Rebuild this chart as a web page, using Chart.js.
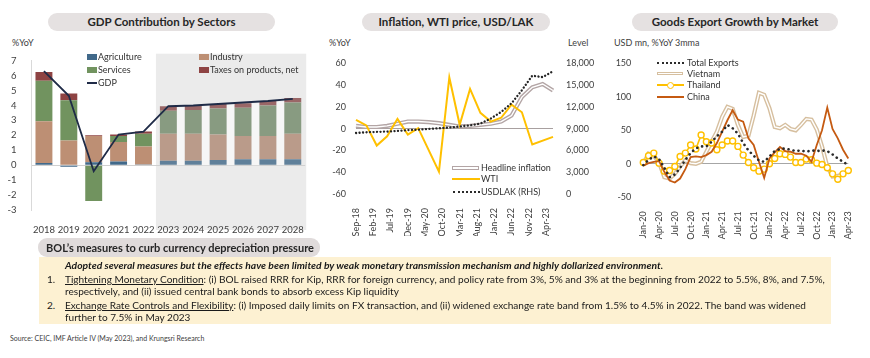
<!DOCTYPE html>
<html>
<head>
<meta charset="utf-8">
<title>Lao PDR: growth, inflation and exports</title>
<script src="https://cdn.jsdelivr.net/npm/chart.js@4.4.1/dist/chart.umd.min.js"></script>
<style>
body { margin:0; }
#page { position:relative; width:870px; height:358px; background:#fff; overflow:hidden; font-family: Lato, "Open Sans", sans-serif; color:#262626; }
#page canvas { position:absolute; }
.pill { position:absolute; height:18px; line-height:18px; border-radius:9px; background:#e5e1e1; text-align:center; font-weight:700; font-size:11.5px; color:#262626; white-space:nowrap; }
.unit { position:absolute; font-size:9px; color:#404040; line-height:12px; white-space:nowrap; }
.lg { position:absolute; font-size:9px; color:#333; line-height:12px; white-space:nowrap; }
.sw { position:absolute; }
.dline { position:absolute; height:1.6px; background:#fff; border:1.3px solid; }
.dots { position:absolute; height:0; border-top:2.4px dotted #2b2b2b; }
.ring { position:absolute; width:7px; height:7px; box-sizing:border-box; border:1.4px solid #ffc000; border-radius:50%; background:#fff; }
.txt { position:absolute; font-size:10px; line-height:13px; white-space:nowrap; color:#1a1a1a; }
#box { position:absolute; left:39px; top:257px; width:792px; height:67px; background:#fdf1d2; }
#secpill { position:absolute; left:38px; top:238px; width:282px; height:19px; line-height:19px; border-radius:9px; background:#e0dbdb; font-weight:700; font-size:11px; padding-left:8px; box-sizing:border-box; white-space:nowrap; }
#source { position:absolute; left:10px; top:334px; font-size:7px; color:#404040; white-space:nowrap; }
</style>
</head>
<body>
<div id="page">
  <div class="pill" style="left:48px; top:13px; width:227px;">GDP Contribution by Sectors</div>
  <div class="pill" style="left:362px; top:13px; width:188px;">Inflation, WTI price, USD/LAK</div>
  <div class="pill" style="left:632px; top:13px; width:206px;">Goods Export Growth by Market</div>

  <div class="unit" style="left:12px; top:37px;">%YoY</div>
  <div class="unit" style="left:329px; top:37px;">%YoY</div>
  <div class="unit" style="left:568px; top:37px;">Level</div>
  <div class="unit" style="left:614px; top:37px;">USD mn, %YoY 3mma</div>

  <canvas id="gdpChart" width="310" height="196" style="left:0; top:40px;"></canvas>
  <canvas id="inflChart" width="290" height="196" style="left:310px; top:40px;"></canvas>
  <canvas id="expChart" width="270" height="200" style="left:600px; top:40px;"></canvas>

  <!-- legend, chart 1 -->
  <div class="sw" style="left:87px; top:54px; width:10px; height:6px; background:#41698a;"></div>
  <div class="lg" style="left:98px; top:51px;">Agriculture</div>
  <div class="sw" style="left:87px; top:67px; width:10px; height:6px; background:#71935f;"></div>
  <div class="lg" style="left:98px; top:64px;">Services</div>
  <div class="sw" style="left:87px; top:82px; width:10px; height:1.8px; background:#1f2b47;"></div>
  <div class="lg" style="left:98px; top:77px;">GDP</div>
  <div class="sw" style="left:199px; top:54px; width:10px; height:6px; background:#bd8f74;"></div>
  <div class="lg" style="left:210px; top:51px;">Industry</div>
  <div class="sw" style="left:199px; top:67px; width:10px; height:6px; background:#8e4343;"></div>
  <div class="lg" style="left:210px; top:64px;">Taxes on products, net</div>

  <!-- legend, chart 2 -->
  <div class="dline" style="left:452px; top:166px; width:25px; border-color:#b3a5a5;"></div>
  <div class="lg" style="left:481px; top:162px;">Headline inflation</div>
  <div class="sw" style="left:452px; top:178.3px; width:28px; height:2px; background:#ffc000;"></div>
  <div class="lg" style="left:481px; top:173px;">WTI</div>
  <div class="dots" style="left:453px; top:190.5px; width:27px;"></div>
  <div class="lg" style="left:481px; top:186px;">USDLAK (RHS)</div>

  <!-- legend, chart 3 -->
  <div class="dots" style="left:657px; top:62px; width:27px;"></div>
  <div class="lg" style="left:687px; top:57px;">Total Exports</div>
  <div class="dline" style="left:657px; top:71.5px; width:24px; border-color:#d6bf9f;"></div>
  <div class="lg" style="left:687px; top:68px;">Vietnam</div>
  <div class="sw" style="left:657px; top:84.2px; width:27px; height:1.6px; background:#ffc000;"></div>
  <div class="ring" style="left:667px; top:81.5px;"></div>
  <div class="lg" style="left:687px; top:79px;">Thailand</div>
  <div class="sw" style="left:657px; top:95.8px; width:27px; height:1.8px; background:#c55a11;"></div>
  <div class="lg" style="left:687px; top:90.5px;">China</div>

  <!-- measures box -->
  <div id="box"></div>
  <div id="secpill">BOL’s measures to curb currency depreciation pressure</div>
  <div class="txt" id="lead" style="left:65px; top:258.5px; font-weight:700; font-style:italic;">Adopted several measures but the effects have been limited by weak monetary transmission mechanism and highly dollarized environment.</div>
  <div class="txt body" style="left:47px; top:272.5px;">1.</div>
  <div class="txt body" id="longLine" style="left:65px; top:272.5px;"><u>Tightening Monetary Condition</u>: (i) BOL raised RRR for Kip, RRR for foreign currency, and policy rate from 3%, 5% and 3% at the beginning from 2022 to 5.5%, 8%, and 7.5%,</div>
  <div class="txt body" style="left:65px; top:285.2px;">respectively, and (ii) issued central bank bonds to absorb excess Kip liquidity</div>
  <div class="txt body" style="left:47px; top:298.5px;">2.</div>
  <div class="txt body" style="left:65px; top:298.5px;"><u>Exchange Rate Controls and Flexibility</u>: (i) Imposed daily limits on FX transaction, and (ii) widened exchange rate band from 1.5% to 4.5% in 2022. The band was widened</div>
  <div class="txt body" style="left:65px; top:310.8px;">further to 7.5% in May 2023</div>
  <div id="source">Source: CEIC, IMF Article IV  (May 2023), and Krungsri Research</div>
</div>

<script>
// ---- GDP contribution by sector (ppt), 2023 onwards are projections
const years = ['2018', '2019', '2020', '2021', '2022', '2023', '2024', '2025', '2026', '2027', '2028'];
const agriculture = [0.15, -0.1, 0.2, 0.25, 0.05, 0.3, 0.3, 0.35, 0.4, 0.4, 0.4];
const industry = [2.8, 1.65, 1.75, 1.3, 1.2, 1.8, 1.8, 1.7, 1.55, 1.55, 1.7];
const services = [2.7, 2.7, -2.4, 0.4, 0.85, 1.55, 1.6, 1.75, 1.9, 2.05, 2.1];
const taxes = [0.6, 0.45, 0.05, 0.1, 0.15, 0.3, 0.3, 0.3, 0.3, 0.3, 0.3];
const gdp = [6.3, 4.65, -0.4, 2.05, 2.25, 3.95, 4.0, 4.1, 4.2, 4.3, 4.45];
const firstForecast = years.indexOf('2023');

// ---- inflation / WTI / USDLAK: monthly axis, series read at every 3rd month
const months2 = ('Sep-18 Oct-18 Nov-18 Dec-18 ' +
  'Jan-19 Feb-19 Mar-19 Apr-19 May-19 Jun-19 Jul-19 Aug-19 Sep-19 Oct-19 Nov-19 Dec-19 ' +
  'Jan-20 Feb-20 Mar-20 Apr-20 May-20 Jun-20 Jul-20 Aug-20 Sep-20 Oct-20 Nov-20 Dec-20 ' +
  'Jan-21 Feb-21 Mar-21 Apr-21 May-21 Jun-21 Jul-21 Aug-21 Sep-21 Oct-21 Nov-21 Dec-21 ' +
  'Jan-22 Feb-22 Mar-22 Apr-22 May-22 Jun-22 Jul-22 Aug-22 Sep-22 Oct-22 Nov-22 Dec-22 ' +
  'Jan-23 Feb-23 Mar-23 Apr-23 May-23 Jun-23').split(' ');
const headlineQ = [2.5, 1.5, 1.5, 2.5, 4.5, 6.5, 6.5, 6, 5, 3.5, 2, 2.5, 3.5, 4.5, 6.5, 12, 29, 38, 41, 35];
const wtiQ = [8, 3, -15.5, -7, 9, -5.5, 0.5, null, -39.5, 47, 3.5, 36.5, 14.5, 6.5, 10, 22, 15, -14.5, null, -7.5];
const usdlakQ = [8400, 8500, 8550, 8600, 8700, 8800, 8850, 8950, 9050, 9150, 9300, 9450, 9700, 10400, 11300, 12500, 14300, 16300, 16100, 16900];

// ---- goods export growth by market (%YoY, 3mma)
const months3 = ('Jan-20 Feb-20 Mar-20 Apr-20 May-20 Jun-20 Jul-20 Aug-20 Sep-20 Oct-20 Nov-20 Dec-20 ' +
  'Jan-21 Feb-21 Mar-21 Apr-21 May-21 Jun-21 Jul-21 Aug-21 Sep-21 Oct-21 Nov-21 Dec-21 ' +
  'Jan-22 Feb-22 Mar-22 Apr-22 May-22 Jun-22 Jul-22 Aug-22 Sep-22 Oct-22 Nov-22 Dec-22 ' +
  'Jan-23 Feb-23 Mar-23 Apr-23').split(' ');
const totalExports = [-2, 6, 11, 7, -6, -20, -16, -6, 6, 16, 23, 26, 26, 33, 41, 48, 58, 53, 45, 31, 20, 12, 5, 3, 11, 19, 22, 23, 21, 19, 20, 18, 20, 19, 20, 19, 14, 8, 3, -2];
const vietnam = [0, 15, 12, 2, -20, -22, -15, -4, 5, 1, 0, 3, 18, 33, 48, 70, 85, 82, 58, 40, 42, 72, 106, 103, 83, 55, 53, 58, 52, 50, 58, 67, 66, 51, 26, -4, -19, -18, -16, null];
const thailand = [2, 12, 16, 1, -11, -10, -4, 11, 16, 28, 22, 43, 33, 31, 21, 28, 34, 34, 26, 13, 2, -6, -11, -8, 0, 8, 15, 14, 10, 2, 2, 7, 6, 1, -1, -6, -15, -23, -15, -10];
const china = [-3, 1, 3, 4, -12, -25, -28, -22, -8, 10, 11, 10, 13, 18, 31, 48, 65, 80, 66, 63, 38, 28, 3, -21, 8, 17, 25, 19, 18, 15, 15, 12, 3, 28, 50, 84, 52, 38, 21, 8];

// text box: size the body lines so the long lines span the box like the original
function fitTo(el, target) {
  const size = parseFloat(getComputedStyle(el).fontSize);
  return size * target / el.getBoundingClientRect().width;
}
const lead = document.getElementById('lead');
lead.style.fontSize = fitTo(lead, 599) + 'px';
const bodySize = fitTo(document.getElementById('longLine'), 761);
document.querySelectorAll('.body').forEach(el => { el.style.fontSize = bodySize + 'px'; });

Chart.defaults.font.family = 'Lato, "Open Sans", sans-serif';
Chart.defaults.font.size = 9;
Chart.defaults.color = '#404040';

function onMonthGrid(q) {
  return months2.map((m, i) => (i % 3 === 0 ? q[i / 3] : null));
}

function byPeriod(hist, fcst) {
  return years.map((y, i) => (i >= firstForecast ? fcst : hist));
}

const noLegend = { legend: { display: false }, tooltip: { enabled: false } };

// grey forecast band + light strips between the projection bars
const forecastShade = {
  id: 'forecastShade',
  beforeDraw(chart) {
    const { ctx, chartArea } = chart;
    const x = chart.scales.x;
    const half = (x.getPixelForValue(1) - x.getPixelForValue(0)) / 2;
    const left = x.getPixelForValue(firstForecast) - half;
    ctx.save();
    ctx.fillStyle = '#ebebeb';
    ctx.fillRect(left, chartArea.top - 7, chartArea.right - left + 1, chart.height - 6 - (chartArea.top - 7));
    ctx.restore();
  },
  beforeDatasetsDraw(chart) {
    const { ctx } = chart;
    const y = chart.scales.y;
    const meta = chart.getDatasetMeta(1);
    ctx.save();
    ctx.fillStyle = '#f6f6f6';
    for (let i = firstForecast; i < years.length - 1; i++) {
      const a = meta.data[i], b = meta.data[i + 1];
      const l = a.x + a.width / 2, r = b.x - b.width / 2;
      const top = y.getPixelForValue((gdp[i] + gdp[i + 1]) / 2) + 1.5;
      ctx.fillRect(l, top, r - l, y.getPixelForValue(0) - top);
    }
    ctx.restore();
  }
};

new Chart(document.getElementById('gdpChart'), {
  data: {
    labels: years,
    datasets: [
      { type: 'line', label: 'GDP', data: gdp, borderColor: '#1f2b47', borderWidth: 1.8, pointRadius: 0, stack: 'gdp', order: 0 },
      { type: 'bar', label: 'Agriculture', data: agriculture, backgroundColor: byPeriod('#41698a', '#60809a'), stack: 's', order: 1 },
      { type: 'bar', label: 'Industry', data: industry, backgroundColor: byPeriod('#bd8f74', '#ba9b8a'), stack: 's', order: 1 },
      { type: 'bar', label: 'Services', data: services, backgroundColor: byPeriod('#71935f', '#889b81'), stack: 's', order: 1 },
      { type: 'bar', label: 'Taxes on products, net', data: taxes, backgroundColor: byPeriod('#8e4343', '#9a6767'), stack: 's', order: 1 }
    ]
  },
  options: {
    responsive: false,
    animation: false,
    layout: { padding: { top: 17, right: 4.5, left: 0, bottom: 0 } },
    plugins: noLegend,
    datasets: { bar: { categoryPercentage: 1, barPercentage: 0.68 } },
    scales: {
      x: {
        stacked: true,
        grid: { display: false },
        border: { display: false },
        ticks: { autoSkip: false, maxRotation: 0, minRotation: 0, padding: 6, font: { size: 9.5 } },
        afterFit: s => { s.height = 26; }
      },
      y: {
        stacked: true,
        min: -3,
        max: 7,
        ticks: { stepSize: 1, padding: 15, font: { size: 9.5 } },
        grid: { drawTicks: false, color: c => (c.tick.value === 0 ? '#d0d0d0' : 'rgba(0,0,0,0)') },
        border: { display: true, color: '#d9d9d9' },
        afterFit: s => { s.width = 31.5; }
      }
    }
  },
  plugins: [forecastShade]
});

const lineBase = { pointRadius: 0, spanGaps: true, tension: 0, fill: false };

new Chart(document.getElementById('inflChart'), {
  type: 'line',
  data: {
    labels: months2,
    datasets: [
      { ...lineBase, label: 'USDLAK (RHS)', data: onMonthGrid(usdlakQ), yAxisID: 'y1', borderColor: '#262626', borderWidth: 2.3, borderDash: [0.1, 3.4], borderCapStyle: 'round' },
      { ...lineBase, label: 'WTI', data: onMonthGrid(wtiQ), yAxisID: 'y', borderColor: '#ffc000', borderWidth: 2 },
      { ...lineBase, label: 'Headline inflation (inner)', data: onMonthGrid(headlineQ), yAxisID: 'y', borderColor: '#ffffff', borderWidth: 1.4 },
      { ...lineBase, label: 'Headline inflation', data: onMonthGrid(headlineQ), yAxisID: 'y', borderColor: '#b3a5a5', borderWidth: 4.2 }
    ]
  },
  options: {
    responsive: false,
    animation: false,
    layout: { padding: { top: 23.3, right: 0, left: 0, bottom: 0 } },
    plugins: noLegend,
    scales: {
      x: {
        grid: { display: false },
        border: { display: false },
        ticks: { autoSkip: false, maxRotation: 90, minRotation: 90, padding: 6, callback: (v, i) => (i % 5 === 0 ? months2[i] : '') },
        afterFit: s => { s.height = 42; }
      },
      y: {
        position: 'left',
        min: -60,
        max: 60,
        ticks: { stepSize: 20, padding: 10 },
        grid: { drawTicks: false, color: c => (c.tick.value === 0 ? '#a8a0a0' : 'rgba(0,0,0,0)') },
        border: { display: false },
        afterFit: s => { s.width = 46; }
      },
      y1: {
        position: 'right',
        min: 0,
        max: 18000,
        ticks: { stepSize: 3000, padding: 13, callback: v => v.toLocaleString('en-US') },
        grid: { display: false, drawTicks: false },
        border: { display: false },
        afterFit: s => { s.width = 47; }
      }
    }
  }
});

new Chart(document.getElementById('expChart'), {
  type: 'line',
  data: {
    labels: months3,
    datasets: [
      { ...lineBase, label: 'Total Exports', data: totalExports, borderColor: '#2b2b2b', borderWidth: 2.6, borderDash: [0.1, 5], borderCapStyle: 'round', order: 0 },
      { ...lineBase, label: 'China', data: china, borderColor: '#c55a11', borderWidth: 1.8, order: 1 },
      { ...lineBase, label: 'Thailand', data: thailand, borderColor: '#ffc000', borderWidth: 1.6, pointRadius: 3, pointBorderWidth: 1.4, pointBackgroundColor: '#ffffff', pointBorderColor: '#ffc000', clip: false, order: 2 },
      { ...lineBase, label: 'Vietnam (inner)', data: vietnam, borderColor: '#ffffff', borderWidth: 1.4, spanGaps: false, order: 3 },
      { ...lineBase, label: 'Vietnam', data: vietnam, borderColor: '#d6bf9f', borderWidth: 4.2, spanGaps: false, order: 4 }
    ]
  },
  options: {
    responsive: false,
    animation: false,
    layout: { padding: { top: 23.3, right: 21.7, left: 0, bottom: 0 } },
    plugins: noLegend,
    scales: {
      x: {
        grid: { display: false },
        border: { display: false },
        ticks: { autoSkip: false, maxRotation: 90, minRotation: 90, padding: 6, callback: (v, i) => (i % 3 === 0 ? months3[i] : '') },
        afterFit: s => { s.height = 42.7; }
      },
      y: {
        min: -50,
        max: 150,
        ticks: { stepSize: 50, padding: 12 },
        grid: { drawTicks: false, color: c => (c.tick.value === 0 ? '#a6a6a6' : 'rgba(0,0,0,0)') },
        border: { display: false },
        afterFit: s => { s.width = 43.3; }
      }
    }
  }
});
</script>
</body>
</html>
